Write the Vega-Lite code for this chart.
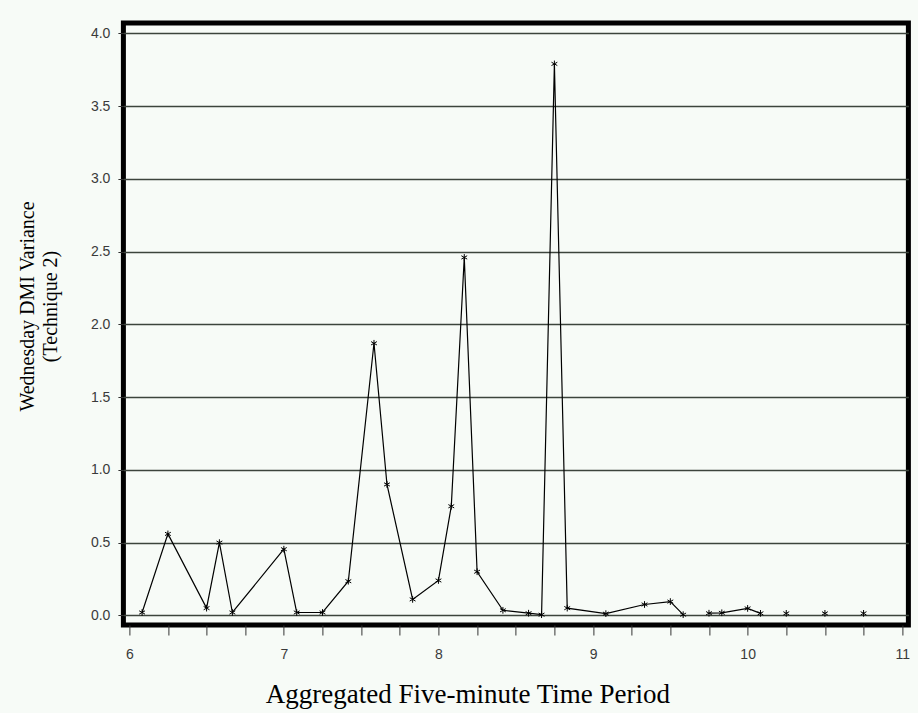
{
  "$schema": "https://vega.github.io/schema/vega-lite/v6.json",
  "width": 785,
  "height": 602,
  "autosize": {"type": "none"},
  "padding": {"left": 123.4, "top": 23, "right": 9.6, "bottom": 88},
  "background": "#f7fbf7",
  "config": {
    "view": {"stroke": "#000000", "strokeWidth": 5, "fill": "#f7fbf7"},
    "axis": {
      "labelFont": "Liberation Sans",
      "labelFontSize": 14,
      "labelColor": "#3a3a3a",
      "tickColor": "#333333",
      "tickWidth": 1,
      "titleFont": "Liberation Serif",
      "titleFontWeight": "normal",
      "titleColor": "#000000",
      "labelFlush": false,
      "labelOverlap": false,
      "domain": false
    }
  },
  "data": {
    "values": [
      {"t": 6.083, "v": 0.02},
      {"t": 6.25, "v": 0.56},
      {"t": 6.5, "v": 0.05},
      {"t": 6.583, "v": 0.5},
      {"t": 6.667, "v": 0.02},
      {"t": 7.0, "v": 0.455},
      {"t": 7.083, "v": 0.02},
      {"t": 7.25, "v": 0.02},
      {"t": 7.417, "v": 0.235},
      {"t": 7.583, "v": 1.87},
      {"t": 7.667, "v": 0.9},
      {"t": 7.833, "v": 0.11},
      {"t": 8.0, "v": 0.24},
      {"t": 8.083, "v": 0.75},
      {"t": 8.167, "v": 2.46},
      {"t": 8.25, "v": 0.3},
      {"t": 8.417, "v": 0.035},
      {"t": 8.583, "v": 0.015},
      {"t": 8.667, "v": 0.005},
      {"t": 8.75, "v": 3.79},
      {"t": 8.833, "v": 0.05},
      {"t": 9.083, "v": 0.012},
      {"t": 9.333, "v": 0.075},
      {"t": 9.5, "v": 0.095},
      {"t": 9.583, "v": 0.005},
      {"t": 9.667, "v": null},
      {"t": 9.75, "v": 0.015},
      {"t": 9.833, "v": 0.018},
      {"t": 10.0, "v": 0.048},
      {"t": 10.083, "v": 0.014},
      {"t": 10.167, "v": null},
      {"t": 10.25, "v": 0.014},
      {"t": 10.333, "v": null},
      {"t": 10.5, "v": 0.014},
      {"t": 10.583, "v": null},
      {"t": 10.75, "v": 0.014}
    ]
  },
  "encoding": {
    "x": {
      "field": "t",
      "type": "quantitative",
      "scale": {"domain": [5.962, 11.04], "nice": false, "zero": false},
      "axis": {
        "values": [6, 6.25, 6.5, 6.75, 7, 7.25, 7.5, 7.75, 8, 8.25, 8.5, 8.75, 9, 9.25, 9.5, 9.75, 10, 10.25, 10.5, 10.75, 11],
        "labelExpr": "datum.value % 1 === 0 ? format(datum.value, 'd') : ''",
        "grid": false,
        "tickSize": 10,
        "labelPadding": 12,
        "title": "Aggregated Five-minute Time Period",
        "titleFontSize": 27,
        "titleX": 344,
        "titleY": 77,
        "titleBaseline": "alphabetic",
        "titleAlign": "center"
      }
    },
    "y": {
      "field": "v",
      "type": "quantitative",
      "scale": {"domain": [-0.066, 4.071], "nice": false, "zero": false},
      "axis": {
        "values": [0, 0.5, 1, 1.5, 2, 2.5, 3, 3.5, 4],
        "format": ".1f",
        "grid": true,
        "gridColor": "#3c443c",
        "gridWidth": 1.5,
        "tickSize": 5.5,
        "labelPadding": 8,
        "title": ["Wednesday DMI Variance", "(Technique 2)"],
        "titleFontSize": 20,
        "titleAngle": -90,
        "titleX": -106,
        "titleY": 283,
        "titleBaseline": "top",
        "titleAlign": "center",
        "titleLineHeight": 23
      }
    }
  },
  "layer": [
    {
      "mark": {"type": "line", "color": "#000000", "strokeWidth": 1.2}
    },
    {
      "transform": [{"filter": "datum.v != null"}],
      "mark": {
        "type": "point",
        "shape": "M0,-1L0,1M-0.87,-0.5L0.87,0.5M-0.87,0.5L0.87,-0.5",
        "filled": false,
        "color": "#000000",
        "size": 45,
        "strokeWidth": 1,
        "opacity": 1
      }
    }
  ]
}
